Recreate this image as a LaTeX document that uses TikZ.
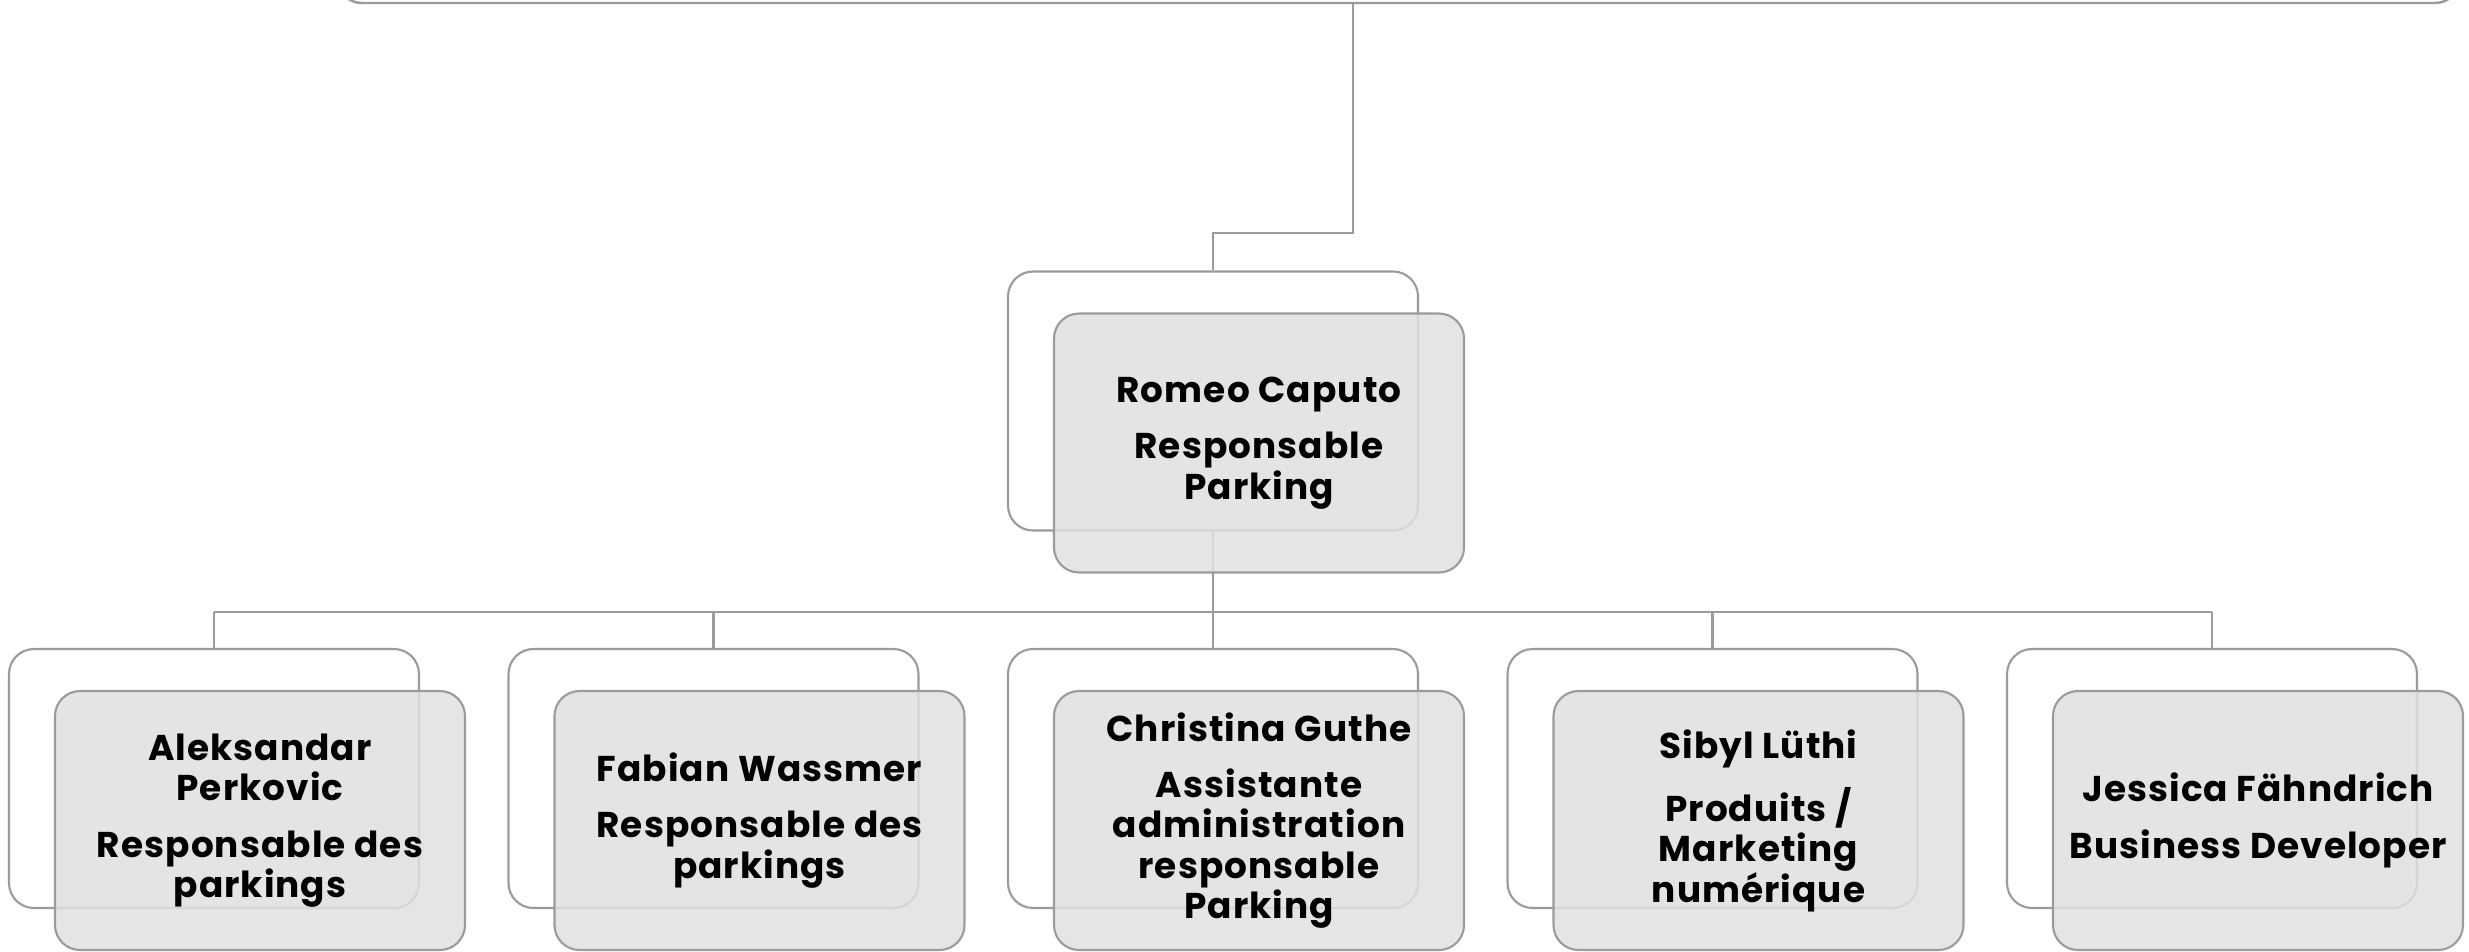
\documentclass[tikz,border=0pt]{standalone}
\usepackage{fontspec}
\setmainfont{Poppins}[LetterSpace=3]
\begin{document}
\begin{tikzpicture}[x=0.1mm,y=-0.1mm,
  linecol/.style={draw=lcol, line width=0.6pt},
  backbox/.style={draw=lcol, line width=0.6pt, fill=white, rounded corners=2.5mm,
    minimum width=41mm, minimum height=25.9mm, inner sep=0pt},
  frontbox/.style={draw=lcol, line width=0.6pt, fill=boxfill, fill opacity=0.85, text opacity=1,
    rounded corners=2.5mm, minimum width=41mm, minimum height=25.9mm, inner sep=0pt,
    align=center, font=\fontsize{10.2pt}{11.5pt}\selectfont\bfseries, text=black},
]
\definecolor{lcol}{HTML}{9B9B9B}
\definecolor{boxfill}{HTML}{E0E0E0}
\useasboundingbox (0,0) rectangle (2469,951);
\clip (0,0) rectangle (2469,951);
% top (cut-off) box
\draw[draw=lcol, line width=0.7pt, fill=white, rounded corners=2.5mm] (337,-200) rectangle (2460,3);
\coordinate (top) at (1353,3);
\coordinate (mid) at (1353,233);
% back boxes
\node[backbox] (rb) at (1213,401) {};
\node[backbox] (b1) at (214,778.5) {};
\node[backbox] (b2) at (713.5,778.5) {};
\node[backbox] (b3) at (1213,778.5) {};
\node[backbox] (b4) at (1712.5,778.5) {};
\node[backbox] (b5) at (2212,778.5) {};
\coordinate (bus) at (1213,612);
% connectors
\draw[linecol] (top) -- (mid) -| (rb.north);
\draw[linecol] (rb.south) -- (bus);
\draw[linecol] (b1.north |- bus) -- (b5.north |- bus);
\foreach \b in {b1,b2,b3,b4,b5}{
  \draw[linecol] (\b.north |- bus) -- (\b.north);
}
% front boxes
\node[frontbox] (rf) at (1259,443) {Romeo Caputo\\[1.6mm] Responsable\\Parking};
\node[frontbox] (f1) at (260,820.5) {Aleksandar\\Perkovic\\[1.6mm] Responsable des\\parkings};
\node[frontbox] (f2) at (759.5,820.5) {Fabian Wassmer\\[1.6mm] Responsable des\\parkings};
\node[frontbox] (f3) at (1259,820.5) {Christina Guthe\\[1.6mm] Assistante\\administration\\responsable\\Parking};
\node[frontbox] (f4) at (1758.5,820.5) {Sibyl Lüthi\\[1.6mm] Produits /\\Marketing\\numérique};
\node[frontbox] (f5) at (2258,820.5) {Jessica Fähndrich\\[1.6mm] Business Developer};
\end{tikzpicture}
\end{document}
